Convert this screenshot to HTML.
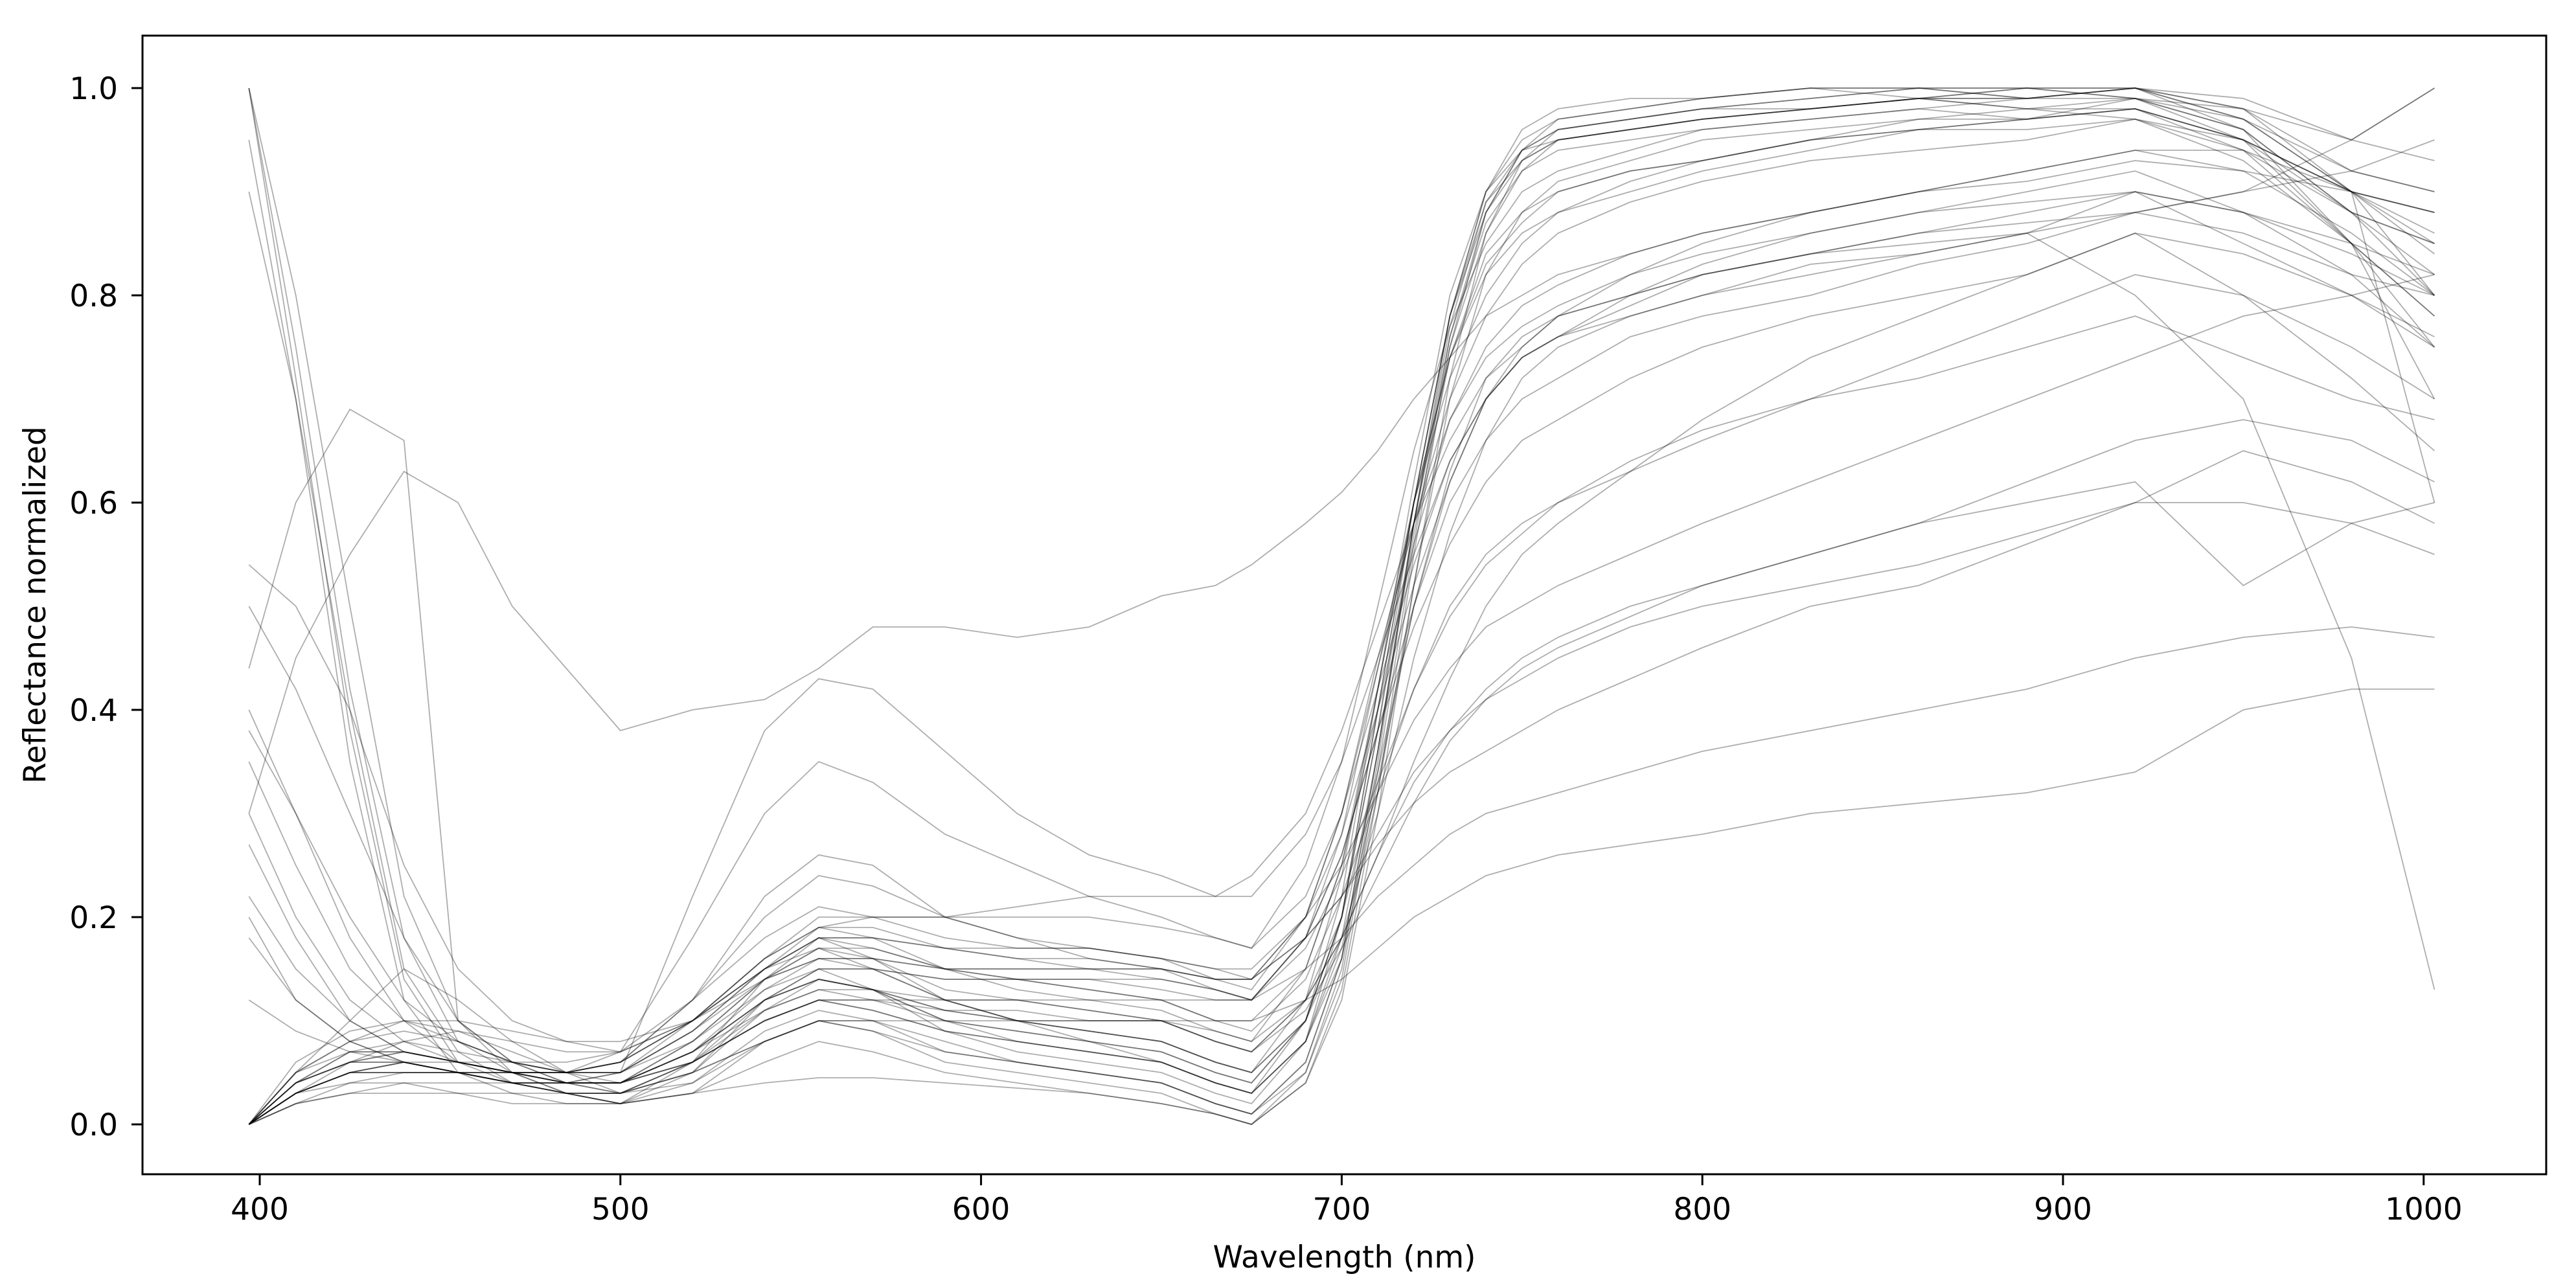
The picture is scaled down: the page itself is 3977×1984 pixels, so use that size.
<!DOCTYPE html>
<html><head><meta charset="utf-8">
<style>
html,body{margin:0;padding:0;background:#fff;}
svg{display:block;}
text{font-family:"DejaVu Sans","Liberation Sans",sans-serif;fill:#000;}
</style></head>
<body>
<svg id="chart" width="3977" height="1984" viewBox="0 0 3977 1984" xmlns="http://www.w3.org/2000/svg">
<rect x="0" y="0" width="3977" height="1984" fill="#fff"/>
<g id="lines"></g>
<g id="axes"></g>
</svg>
<script>
const wavelengths = [397,410,425,440,455,470,485,500,520,540,555,570,590,610,630,650,665,675,690,700,710,720,730,740,750,760,780,800,830,860,890,920,950,980,1003];
const xTicks = [400,500,600,700,800,900,1000];
const yTicks = [0.0,0.2,0.4,0.6,0.8,1.0];
const yTickLabels = ["0.0","0.2","0.4","0.6","0.8","1.0"];
const s1 = [1.0,0.75,0.42,0.18,0.08,0.05,0.03,0.02,0.05,0.12,0.15,0.13,0.09,0.07,0.06,0.05,0.03,0.02,0.08,0.2,0.4,0.6,0.78,0.9,0.95,0.97,0.98,0.99,1.0,1.0,0.99,1.0,0.97,0.92,0.9];
const s2 = [1.0,0.8,0.5,0.22,0.1,0.06,0.04,0.03,0.06,0.14,0.18,0.16,0.12,0.1,0.08,0.06,0.04,0.03,0.1,0.22,0.42,0.62,0.8,0.9,0.94,0.95,0.96,0.97,0.98,0.99,0.98,0.99,0.95,0.88,0.85];
const s3 = [0.9,0.7,0.4,0.15,0.07,0.04,0.03,0.02,0.03,0.08,0.1,0.09,0.06,0.05,0.04,0.03,0.01,0.0,0.05,0.15,0.35,0.58,0.78,0.9,0.96,0.98,0.99,0.99,1.0,1.0,1.0,0.99,0.98,0.95,1.0];
const s4 = [0.0,0.03,0.05,0.06,0.05,0.04,0.03,0.03,0.06,0.11,0.13,0.12,0.1,0.09,0.08,0.07,0.05,0.04,0.1,0.2,0.38,0.58,0.75,0.86,0.92,0.95,0.96,0.97,0.98,0.99,0.99,1.0,0.97,0.9,0.8];
const s5 = [0.0,0.05,0.08,0.09,0.08,0.06,0.05,0.05,0.1,0.16,0.19,0.18,0.15,0.13,0.12,0.11,0.09,0.08,0.15,0.25,0.42,0.6,0.74,0.82,0.86,0.88,0.9,0.92,0.94,0.96,0.97,0.98,0.95,0.9,0.85];
const s6 = [0.0,0.04,0.07,0.07,0.06,0.05,0.04,0.04,0.08,0.14,0.17,0.16,0.13,0.12,0.11,0.1,0.08,0.07,0.12,0.2,0.34,0.5,0.62,0.7,0.74,0.76,0.78,0.8,0.82,0.84,0.86,0.9,0.88,0.82,0.75];
const s7 = [0.0,0.05,0.07,0.07,0.06,0.06,0.06,0.07,0.12,0.18,0.21,0.2,0.18,0.17,0.17,0.16,0.15,0.15,0.2,0.25,0.32,0.39,0.44,0.48,0.5,0.52,0.55,0.58,0.62,0.66,0.7,0.74,0.78,0.8,0.82];
const s8 = [0.0,0.04,0.06,0.06,0.05,0.05,0.05,0.06,0.1,0.15,0.18,0.18,0.17,0.16,0.16,0.15,0.14,0.14,0.18,0.22,0.27,0.31,0.34,0.36,0.38,0.4,0.43,0.46,0.5,0.52,0.56,0.6,0.65,0.62,0.58];
const s9 = [0.0,0.02,0.03,0.03,0.03,0.03,0.03,0.03,0.05,0.08,0.1,0.1,0.1,0.1,0.1,0.1,0.1,0.1,0.12,0.14,0.17,0.2,0.22,0.24,0.25,0.26,0.27,0.28,0.3,0.31,0.32,0.34,0.4,0.42,0.42];
const s10 = [0.0,0.03,0.04,0.04,0.04,0.04,0.04,0.04,0.06,0.1,0.12,0.12,0.12,0.12,0.12,0.12,0.12,0.12,0.15,0.18,0.22,0.25,0.28,0.3,0.31,0.32,0.34,0.36,0.38,0.4,0.42,0.45,0.47,0.48,0.47];
const s11 = [0.54,0.5,0.4,0.25,0.15,0.1,0.08,0.07,0.1,0.15,0.17,0.15,0.12,0.1,0.09,0.08,0.06,0.05,0.12,0.24,0.42,0.6,0.74,0.83,0.87,0.9,0.92,0.93,0.95,0.96,0.96,0.97,0.95,0.9,0.88];
const s12 = [0.3,0.45,0.55,0.63,0.6,0.5,0.44,0.38,0.4,0.41,0.44,0.48,0.48,0.47,0.48,0.51,0.52,0.54,0.58,0.61,0.65,0.7,0.74,0.78,0.8,0.82,0.84,0.86,0.88,0.9,0.92,0.94,0.92,0.9,0.88];
const s13 = [0.44,0.6,0.69,0.66,0.1,0.05,0.03,0.02,0.06,0.12,0.14,0.13,0.1,0.09,0.08,0.07,0.05,0.04,0.1,0.2,0.4,0.6,0.78,0.88,0.93,0.95,0.96,0.97,0.98,0.99,0.98,0.98,0.95,0.9,0.88];
const s14 = [0.0,0.03,0.05,0.06,0.05,0.04,0.04,0.05,0.22,0.38,0.43,0.42,0.36,0.3,0.26,0.24,0.22,0.22,0.28,0.35,0.45,0.55,0.64,0.7,0.74,0.76,0.79,0.82,0.84,0.86,0.88,0.9,0.88,0.85,0.82];
const s15 = [0.3,0.2,0.12,0.08,0.06,0.05,0.05,0.07,0.18,0.3,0.35,0.33,0.28,0.25,0.22,0.2,0.18,0.17,0.25,0.35,0.5,0.65,0.77,0.85,0.9,0.92,0.94,0.96,0.97,0.98,0.97,0.98,0.95,0.85,0.7];
const s16 = [0.35,0.25,0.15,0.1,0.08,0.06,0.05,0.06,0.12,0.22,0.26,0.25,0.2,0.18,0.17,0.16,0.14,0.13,0.2,0.3,0.45,0.58,0.68,0.74,0.77,0.79,0.82,0.84,0.86,0.88,0.89,0.9,0.85,0.8,0.75];
const s17 = [0.0,0.03,0.05,0.05,0.05,0.04,0.04,0.04,0.07,0.12,0.14,0.13,0.11,0.1,0.09,0.08,0.06,0.05,0.1,0.18,0.3,0.45,0.57,0.66,0.72,0.75,0.78,0.8,0.83,0.84,0.86,0.8,0.7,0.45,0.13];
const s18 = [0.2,0.12,0.08,0.06,0.05,0.04,0.04,0.04,0.07,0.12,0.14,0.13,0.11,0.1,0.1,0.1,0.08,0.07,0.12,0.18,0.26,0.33,0.38,0.42,0.45,0.47,0.5,0.52,0.55,0.58,0.6,0.62,0.52,0.58,0.6];
const s19 = [0.0,0.04,0.06,0.06,0.05,0.05,0.04,0.05,0.09,0.15,0.18,0.17,0.15,0.14,0.13,0.12,0.1,0.09,0.14,0.22,0.32,0.42,0.5,0.55,0.58,0.6,0.63,0.66,0.7,0.74,0.78,0.82,0.8,0.75,0.7];
const s20 = [0.0,0.02,0.03,0.04,0.03,0.02,0.02,0.02,0.03,0.04,0.045,0.045,0.04,0.035,0.03,0.02,0.01,0.0,0.04,0.12,0.3,0.52,0.72,0.86,0.93,0.96,0.97,0.98,0.99,1.0,1.0,1.0,0.98,0.92,0.9];
const s21 = [1.0,0.72,0.38,0.14,0.06,0.04,0.03,0.02,0.04,0.09,0.11,0.1,0.07,0.06,0.05,0.04,0.02,0.01,0.06,0.16,0.36,0.58,0.77,0.89,0.94,0.96,0.97,0.98,0.98,0.99,1.0,0.99,0.96,0.88,0.82];
const s22 = [0.4,0.3,0.2,0.12,0.08,0.06,0.05,0.06,0.1,0.16,0.19,0.19,0.17,0.16,0.15,0.14,0.13,0.12,0.18,0.26,0.38,0.5,0.6,0.66,0.7,0.72,0.76,0.78,0.8,0.83,0.85,0.88,0.86,0.82,0.8];
const s23 = [0.0,0.05,0.08,0.1,0.1,0.09,0.08,0.08,0.1,0.14,0.16,0.16,0.15,0.15,0.15,0.15,0.14,0.14,0.18,0.22,0.28,0.34,0.38,0.41,0.43,0.45,0.48,0.5,0.52,0.54,0.57,0.6,0.6,0.58,0.55];
const s24 = [0.18,0.12,0.08,0.06,0.05,0.05,0.05,0.06,0.1,0.15,0.18,0.18,0.17,0.17,0.17,0.16,0.15,0.14,0.2,0.28,0.4,0.52,0.62,0.7,0.75,0.78,0.82,0.85,0.88,0.9,0.92,0.94,0.94,0.9,0.6];
const s25 = [0.0,0.06,0.09,0.1,0.09,0.08,0.07,0.07,0.1,0.16,0.2,0.2,0.2,0.21,0.22,0.22,0.22,0.24,0.3,0.38,0.48,0.58,0.66,0.72,0.75,0.78,0.8,0.82,0.84,0.85,0.86,0.88,0.9,0.92,0.95];
const s26 = [0.27,0.18,0.1,0.07,0.06,0.05,0.04,0.04,0.06,0.1,0.12,0.11,0.09,0.08,0.07,0.06,0.04,0.03,0.08,0.16,0.32,0.52,0.7,0.82,0.88,0.91,0.93,0.95,0.96,0.97,0.98,0.97,0.94,0.88,0.85];
const s27 = [0.0,0.03,0.05,0.05,0.05,0.04,0.03,0.03,0.06,0.1,0.12,0.11,0.09,0.08,0.07,0.06,0.04,0.03,0.08,0.17,0.33,0.5,0.63,0.72,0.76,0.78,0.8,0.82,0.84,0.86,0.87,0.88,0.9,0.95,1.0];
const s28 = [0.12,0.09,0.07,0.06,0.06,0.05,0.05,0.05,0.08,0.13,0.15,0.15,0.14,0.14,0.14,0.13,0.12,0.12,0.17,0.24,0.33,0.42,0.49,0.54,0.57,0.6,0.64,0.67,0.7,0.72,0.75,0.78,0.74,0.7,0.68];
const s29 = [0.0,0.04,0.06,0.07,0.06,0.05,0.05,0.05,0.09,0.14,0.16,0.16,0.15,0.15,0.15,0.15,0.14,0.14,0.2,0.3,0.44,0.58,0.7,0.78,0.83,0.86,0.89,0.91,0.93,0.94,0.95,0.97,0.93,0.85,0.78];
const s30 = [0.95,0.7,0.35,0.12,0.05,0.03,0.02,0.02,0.03,0.06,0.08,0.07,0.05,0.04,0.03,0.02,0.01,0.0,0.04,0.13,0.32,0.55,0.75,0.88,0.94,0.97,0.98,0.99,1.0,0.99,1.0,1.0,0.99,0.95,0.93];
const s31 = [0.0,0.03,0.06,0.08,0.09,0.07,0.05,0.03,0.04,0.08,0.1,0.1,0.08,0.06,0.05,0.04,0.02,0.01,0.05,0.14,0.34,0.56,0.76,0.88,0.94,0.96,0.97,0.98,0.99,1.0,0.99,1.0,0.98,0.9,0.86];
const s32 = [0.0,0.05,0.1,0.15,0.12,0.08,0.05,0.04,0.07,0.13,0.16,0.15,0.12,0.1,0.09,0.08,0.06,0.05,0.1,0.2,0.38,0.6,0.78,0.89,0.93,0.95,0.96,0.97,0.98,0.99,0.99,1.0,0.96,0.88,0.8];
const s33 = [0.5,0.42,0.3,0.18,0.1,0.06,0.04,0.03,0.05,0.11,0.14,0.13,0.1,0.08,0.07,0.06,0.04,0.03,0.08,0.18,0.36,0.57,0.74,0.84,0.88,0.9,0.92,0.93,0.95,0.96,0.97,0.99,0.96,0.85,0.78];
const s34 = [0.0,0.04,0.06,0.07,0.06,0.05,0.04,0.04,0.08,0.14,0.17,0.17,0.15,0.14,0.13,0.12,0.1,0.1,0.15,0.25,0.4,0.56,0.68,0.75,0.79,0.81,0.84,0.86,0.88,0.9,0.91,0.93,0.92,0.86,0.8];
const s35 = [0.0,0.03,0.05,0.05,0.05,0.04,0.04,0.04,0.06,0.1,0.12,0.12,0.11,0.11,0.1,0.1,0.09,0.08,0.12,0.18,0.26,0.35,0.43,0.5,0.55,0.58,0.63,0.68,0.74,0.78,0.82,0.86,0.8,0.72,0.65];
const s36 = [0.38,0.3,0.18,0.1,0.06,0.05,0.04,0.04,0.07,0.12,0.15,0.15,0.14,0.14,0.14,0.14,0.13,0.12,0.18,0.26,0.38,0.48,0.56,0.62,0.66,0.68,0.72,0.75,0.78,0.8,0.82,0.86,0.84,0.8,0.76];
const s37 = [0.0,0.02,0.04,0.05,0.05,0.04,0.03,0.03,0.05,0.08,0.1,0.09,0.07,0.06,0.05,0.04,0.02,0.01,0.06,0.16,0.36,0.58,0.76,0.87,0.92,0.94,0.95,0.96,0.97,0.98,0.99,0.99,0.97,0.9,0.84];
const s38 = [0.22,0.15,0.1,0.07,0.06,0.05,0.05,0.05,0.09,0.15,0.19,0.2,0.2,0.2,0.2,0.19,0.18,0.17,0.22,0.3,0.42,0.54,0.64,0.7,0.74,0.76,0.8,0.83,0.86,0.88,0.9,0.92,0.88,0.84,0.8];
const s39 = [0.0,0.04,0.07,0.08,0.07,0.06,0.05,0.06,0.12,0.2,0.24,0.23,0.2,0.18,0.16,0.15,0.13,0.12,0.18,0.28,0.44,0.6,0.72,0.8,0.85,0.88,0.91,0.93,0.95,0.97,0.97,0.98,0.94,0.85,0.75];
const s40 = [0.0,0.03,0.05,0.06,0.05,0.05,0.04,0.04,0.07,0.11,0.13,0.13,0.12,0.12,0.11,0.1,0.08,0.07,0.11,0.17,0.24,0.31,0.37,0.41,0.44,0.46,0.49,0.52,0.55,0.58,0.62,0.66,0.68,0.66,0.62];
const seriesList = [s1,s2,s3,s4,s5,s6,s7,s8,s9,s10,s11,s12,s13,s14,s15,s16,s17,s18,s19,s20,s21,s22,s23,s24,s25,s26,s27,s28,s29,s30,s31,s32,s33,s34,s35,s36,s37,s38,s39,s40];

const NS = "http://www.w3.org/2000/svg";
const L = 220, R = 3931, T = 55, B = 1813;
function xScale(v){ return 401 + (v - 400) * 5.568; }
function yScale(v){ return 1736 - v * 1600; }

const lg = document.getElementById('lines');
seriesList.forEach((s, i) => {
  const p = document.createElementNS(NS, 'polyline');
  p.setAttribute('points', s.map((v, j) => xScale(wavelengths[j]).toFixed(1) + ',' + yScale(v).toFixed(1)).join(' '));
  p.setAttribute('fill', 'none');
  p.setAttribute('stroke', 'rgba(0,0,0,0.32)');
  p.setAttribute('stroke-width', '1.8');
  
  
  lg.appendChild(p);
});

const ax = document.getElementById('axes');
const frame = document.createElementNS(NS, 'rect');
frame.setAttribute('x', L); frame.setAttribute('y', T);
frame.setAttribute('width', R - L); frame.setAttribute('height', B - T);
frame.setAttribute('fill', 'none'); frame.setAttribute('stroke', '#000'); frame.setAttribute('stroke-width', '3');


ax.appendChild(frame);

xTicks.forEach(t => {
  const x = xScale(t);
  const ln = document.createElementNS(NS, 'line');
  ln.setAttribute('x1', x); ln.setAttribute('x2', x); ln.setAttribute('y1', B); ln.setAttribute('y2', B + 17);
  ln.setAttribute('stroke', '#000'); ln.setAttribute('stroke-width', '3');
  
  
  ax.appendChild(ln);
  const tx = document.createElementNS(NS, 'text');
  tx.setAttribute('x', x); tx.setAttribute('y', B + 70);
  tx.setAttribute('text-anchor', 'middle'); tx.setAttribute('font-size', '47');
  tx.textContent = String(t);
  
  
  ax.appendChild(tx);
});
yTicks.forEach((t, i) => {
  const y = yScale(t);
  const ln = document.createElementNS(NS, 'line');
  ln.setAttribute('x1', L - 17); ln.setAttribute('x2', L); ln.setAttribute('y1', y); ln.setAttribute('y2', y);
  ln.setAttribute('stroke', '#000'); ln.setAttribute('stroke-width', '3');
  
  
  ax.appendChild(ln);
  const tx = document.createElementNS(NS, 'text');
  tx.setAttribute('x', L - 38); tx.setAttribute('y', y + 17);
  tx.setAttribute('text-anchor', 'end'); tx.setAttribute('font-size', '47');
  tx.textContent = yTickLabels[i];
  
  
  ax.appendChild(tx);
});
const xl = document.createElementNS(NS, 'text');
xl.setAttribute('x', (L + R) / 2); xl.setAttribute('y', 1957);
xl.setAttribute('text-anchor', 'middle'); xl.setAttribute('font-size', '47');
xl.textContent = 'Wavelength (nm)';


ax.appendChild(xl);
const yl = document.createElementNS(NS, 'text');
yl.setAttribute('x', 0); yl.setAttribute('y', 0);
yl.setAttribute('transform', 'translate(70,' + ((T + B) / 2) + ') rotate(-90)');
yl.setAttribute('text-anchor', 'middle'); yl.setAttribute('font-size', '47');
yl.textContent = 'Reflectance normalized';


ax.appendChild(yl);
</script>
</body></html>
